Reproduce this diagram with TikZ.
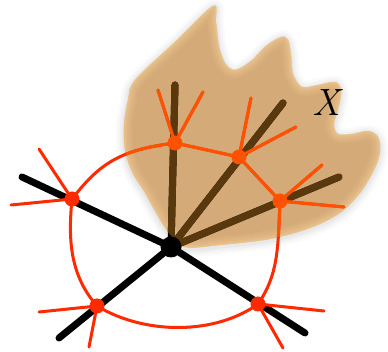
\documentclass[tikz,border=0pt]{standalone}
\usepackage{fontspec}
\definecolor{tanc}{HTML}{D4AA78}
\definecolor{tanl}{HTML}{F8D29A}
\definecolor{brn}{HTML}{5A380E}
\definecolor{redc}{HTML}{FF2A00}
\definecolor{orc}{HTML}{FF5200}
\pgfdeclarelayer{front}
\pgfsetlayers{main,front}
\def\blob{plot[smooth cycle,tension=0.55] coordinates {(135,80) (175,42) (213,6) (216,22) (219,46) (225,63) (235,70) (251,61) (266,46) (281,37) (288,40) (291,55) (293,74) (302,87) (318,85) (335,82) (341,90) (339,106) (334,124) (338,134) (352,134) (368,131) (378,137) (380,152) (374,170) (360,193) (340,213) (310,228) (270,239) (220,245) (185,247) (168,232) (155,211) (145,193) (132,172) (125,150) (124,125) (128,100)}}
\begin{document}
\begin{tikzpicture}[x=1pt,y=-1pt,
  blk/.style={line width=7pt,line cap=round},
  rl/.style={line width=3pt,line cap=round},
  rdot/.style={circle,inner sep=0pt,minimum size=15pt},
  cdot/.style={circle,fill=black,inner sep=0pt,minimum size=21pt}]
\useasboundingbox (0,0) rectangle (388,352);
\fill[white] (0,0) rectangle (388,352);
% named points
\begin{pgfonlayer}{front}
\node[cdot] (c) at (171,247) {};
\node[rdot,fill=redc] (A) at (72,199) {};
\node[rdot,fill=redc] (B) at (97,306) {};
\node[rdot,fill=redc] (C) at (258,304) {};
\node[rdot,fill=orc] (D) at (280,201) {};
\node[rdot,fill=orc] (E) at (239,157) {};
\node[rdot,fill=orc] (F) at (175,143) {};
\end{pgfonlayer}
\coordinate (a1) at (22,177);
\coordinate (b1) at (59,338);
\coordinate (c1) at (305,333);
\coordinate (f1) at (175,85);
\coordinate (e1) at (283,103);
\coordinate (d1) at (339,177);
\coordinate (sA1) at (39,149); \coordinate (sA2) at (11,205);
\coordinate (sB1) at (39,312); \coordinate (sB2) at (89,347);
\coordinate (sC1) at (324,311); \coordinate (sC2) at (283,348);
\coordinate (sD1) at (322,165); \coordinate (sD2) at (344,207);
\coordinate (sE1) at (251,98); \coordinate (sE2) at (296,127);
\coordinate (sF1) at (158,90); \coordinate (sF2) at (203,92);
% blob shadow
\begin{scope}[yshift=-1.5pt]
\foreach \w/\o in {16/0.015,12/0.02,8/0.025,4/0.03}
  \draw[black,line width=\w pt,opacity=\o,line join=round] \blob;
\end{scope}
% blob
\fill[tanc] \blob;
\begin{scope}
\clip \blob;
\foreach \w/\o in {18/0.1,14/0.12,10/0.15,6/0.18,3/0.22}
  \draw[tanl,line width=\w pt,opacity=\o] \blob;
\end{scope}
% black / brown lines
\draw[blk,black] (c.center) -- (a1) (c.center) -- (b1) (c.center) -- (c1)
  (c.center) -- (f1) (c.center) -- (e1) (c.center) -- (d1);
\begin{scope}
\clip \blob;
\draw[blk,brn] (c.center) -- (a1) (c.center) -- (b1) (c.center) -- (c1)
  (c.center) -- (f1) (c.center) -- (e1) (c.center) -- (d1);
\end{scope}
% red graph
\def\redgraph{
  (A.center) .. controls (100,163) and (120,150) .. (F.center)
  (F.center) -- (E.center) -- (D.center)
  (D.center) .. controls (278,250) and (278,275) .. (C.center)
  (C.center) .. controls (215,335) and (145,335) .. (B.center)
  (B.center) .. controls (70,275) and (68,240) .. (A.center)
  (A.center) -- (sA1) (A.center) -- (sA2)
  (B.center) -- (sB1) (B.center) -- (sB2)
  (C.center) -- (sC1) (C.center) -- (sC2)
  (D.center) -- (sD1) (D.center) -- (sD2)
  (E.center) -- (sE1) (E.center) -- (sE2)
  (F.center) -- (sF1) (F.center) -- (sF2)}
\draw[rl,redc] \redgraph;
\begin{scope}
\clip \blob;
\draw[rl,orc] \redgraph;
\end{scope}
\node (X) at (326,103) {\fontsize{38}{44}\selectfont\itshape X};
\end{tikzpicture}
\end{document}
